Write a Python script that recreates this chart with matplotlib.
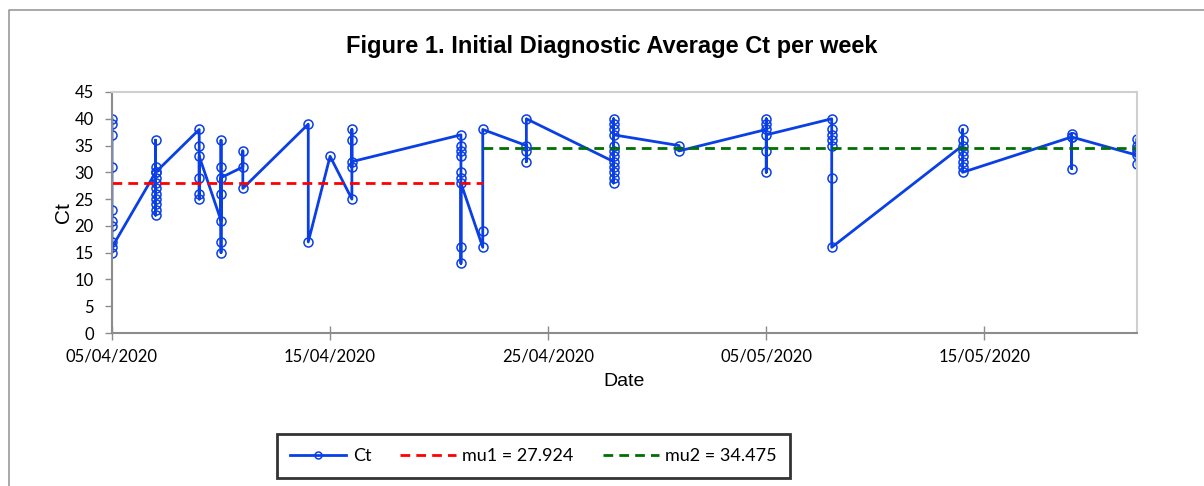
import matplotlib
matplotlib.use("Agg")
import matplotlib.pyplot as plt
import matplotlib.dates as mdates
from matplotlib.lines import Line2D
import numpy as np

# sampling dates and Ct values per date (order inside a date = order of data rows)
dates = ['2020-04-05', '2020-04-07', '2020-04-09', '2020-04-10', '2020-04-11',
         '2020-04-14', '2020-04-15', '2020-04-16', '2020-04-21', '2020-04-22',
         '2020-04-24', '2020-04-28', '2020-05-01', '2020-05-05', '2020-05-08',
         '2020-05-14', '2020-05-19', '2020-05-22']
ct = [
    [40, 39, 37, 31, 23, 21, 20, 17, 15, 16],
    [30, 36, 31, 29, 28, 27, 26, 25, 24, 23, 22, 30],
    [38, 35, 29, 26, 25, 33],
    [21, 36, 31, 26, 17, 15, 29],
    [31, 34, 27],
    [39, 17],
    [33],
    [25, 38, 36, 31, 32],
    [37, 35, 34, 33, 30, 29, 16, 13, 28],
    [16, 19, 38],
    [35, 34, 32, 40],
    [32, 40, 39, 38, 35, 34, 33, 31, 30, 29, 28, 37],
    [35, 34],
    [38, 40, 39, 34, 30, 37],
    [40, 38, 37, 36, 35, 29, 16],
    [35, 38, 36, 34, 33, 32, 31, 30],
    [36.6, 37.2, 30.7, 36.6],
    [33.2, 36.3, 35, 34.4, 33.8, 31.5],
]
mu1 = 27.924
mu2 = 34.475
mu1_span = ['2020-04-05', '2020-04-22']
mu2_span = ['2020-04-22', '2020-05-22']

x = []
y = []
for d, vals in zip(dates, ct):
    for v in vals:
        x.append(np.datetime64(d))
        y.append(v)
x = np.array(x, dtype='datetime64[D]')

fig = plt.figure(figsize=(12.04, 4.86), dpi=100)
ax = fig.add_axes([0.0930, 0.3148, 0.8514, 0.4959])

blue = '#0a3fe6'
ax.plot(x, y, color=blue, lw=2.0, marker='o', ms=6.5, mfc='none', mec=blue, mew=1.1, label='Ct')
ax.plot(np.array(mu1_span, dtype='datetime64[D]'), [mu1, mu1], color='#ff0000', lw=2.0,
        ls=(0, (3.5, 2.2)), label='mu1 = %.3f' % mu1)
ax.plot(np.array(mu2_span, dtype='datetime64[D]'), [mu2, mu2], color='#007000', lw=2.0,
        ls=(0, (3.5, 2.2)), label='mu2 = %.3f' % mu2)

ax.set_xlim(np.datetime64('2020-04-05'), np.datetime64('2020-05-22'))
ax.set_ylim(0, 45)
ax.set_yticks(range(0, 46, 5))
ticks = np.arange(np.datetime64('2020-04-05'), np.datetime64('2020-05-22'), 10)
ax.set_xticks(ticks)
ax.xaxis.set_major_formatter(mdates.DateFormatter('%d/%m/%Y'))

tickfont = 'Lato'
for lab in ax.get_xticklabels() + ax.get_yticklabels():
    lab.set_fontfamily(tickfont)
    lab.set_fontsize(12)
ax.tick_params(axis='y', direction='out', length=5, width=1, color='#8c8c8c', pad=8)
ax.tick_params(axis='x', direction='inout', length=10, width=1, color='#8c8c8c', pad=6)

for s in ['left', 'bottom']:
    ax.spines[s].set_color('#8c8c8c')
    ax.spines[s].set_linewidth(1.5)
for s in ['top', 'right']:
    ax.spines[s].set_color('#cfcfcf')
    ax.spines[s].set_linewidth(1.5)

ax.set_ylabel('Ct', fontfamily='Liberation Sans', fontsize=15, labelpad=1)
ax.set_xlabel('Date', fontfamily='Liberation Sans', fontsize=14, labelpad=6)

fig.text(0.508, 0.905, 'Figure 1. Initial Diagnostic Average Ct per week', ha='center', va='center',
         fontfamily='Liberation Sans', fontweight='bold', fontsize=17)

leg = fig.legend(loc='center', bbox_to_anchor=(0.4431, 0.0617), ncol=3, frameon=True,
                 fancybox=False, prop={'family': tickfont, 'size': 13},
                 handlelength=3.1, columnspacing=1.6, handletextpad=0.35,
                 borderpad=0.75, edgecolor='black')
leg.get_frame().set_linewidth(2)
leg.legend_handles[0].set_markersize(5)

# outer chart border
fig.add_artist(Line2D([0.0075, 0.0075, 1.0], [0.0, 0.979, 0.979], transform=fig.transFigure,
                      color='#9a9a9a', lw=1.2))

fig.savefig('out.png', dpi=100)
